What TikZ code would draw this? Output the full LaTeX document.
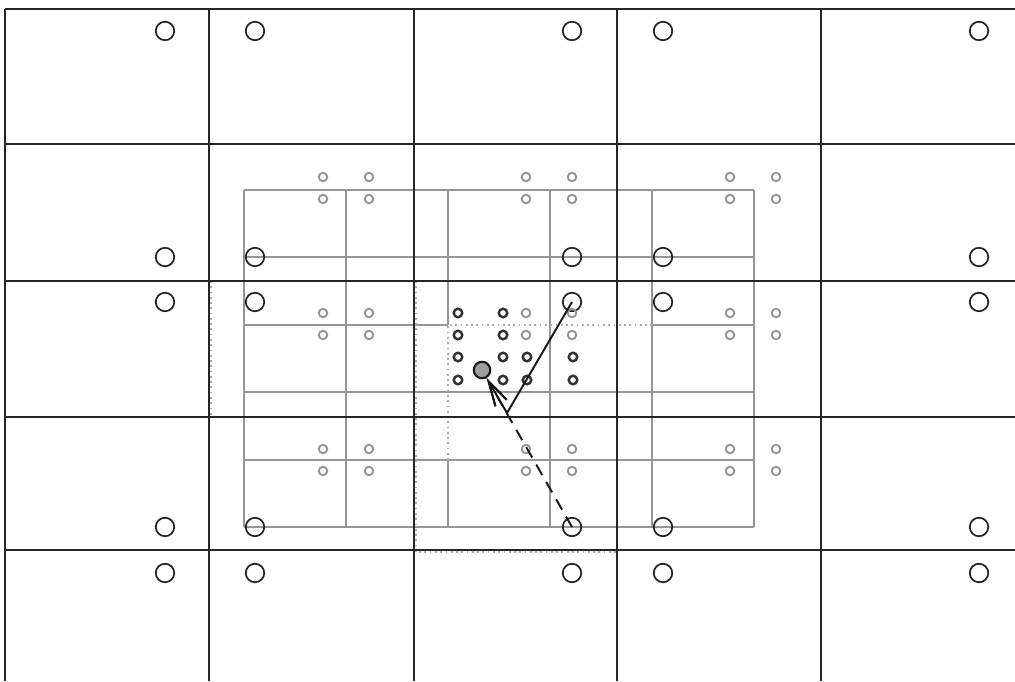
\documentclass[tikz,border=0pt]{standalone}
\usepackage{tikz}
\usetikzlibrary{arrows.meta}
\definecolor{gridgris}{RGB}{150,150,150}
\definecolor{puntoosc}{RGB}{50,50,50}

\begin{document}
\begin{tikzpicture}[
  x=0.2mm, y=-0.2mm,
  gruesa/.style={line width=1.3pt, color=black!85},
  fina/.style={line width=1.1pt, color=gridgris},
  zona/.style={line width=1pt, color=gridgris!80, dotted},
  nodogrande/.style={circle, draw=black!85, line width=1pt, inner sep=0pt,
                     minimum size=3.7mm},
  nodofino/.style={circle, draw=gridgris, line width=1.1pt, inner sep=0pt,
                   minimum size=1.7mm},
  nodoactivo/.style={circle, draw=puntoosc, line width=1.4pt, inner sep=0pt,
                     minimum size=1.7mm},
  objetivo/.style={circle, draw=black!90, fill=gray!75, line width=1.2pt,
                   inner sep=0pt, minimum size=3.3mm},
  flecha/.style={-{Straight Barb[length=5mm, width=2.6mm]}, line width=1.1pt, color=black!90}
]
\useasboundingbox (0,0) rectangle (1015,681);

% fine grid
\foreach \x in {244,346,550,652,754}
  \draw[fina] (\x,190) -- (\x,527);
\draw[fina] (448,190) -- (448,325);
\draw[fina] (448,460) -- (448,527);
\foreach \y in {190,257,392,460,527}
  \draw[fina] (244,\y) -- (754,\y);
\draw[fina] (244,325) -- (448,325);
\draw[fina] (652,325) -- (754,325);

% dotted regions
\draw[zona] (448,460) -- (448,325) -- (652,325);
\draw[zona] (211,281) -- (211,417);
\draw[zona] (416,281) -- (416,552) -- (617,552);

% coarse grid
\foreach \y in {9,144,281,417,550}
  \draw[gruesa] (5,\y) -- (1015,\y);
\foreach \x in {5,209,414,617,821}
  \draw[gruesa] (\x,9) -- (\x,681);

% coarse points
\foreach \x [count=\i] in {165,255,572,663,979}
  \foreach \y [count=\j] in {31,257,302,527,573}
    \node[nodogrande] (c\i\j) at (\x,\y) {};

% fine points
\foreach \cx [count=\i] in {346,549,753}
  \foreach \cy [count=\j] in {188,324,460}
    \foreach \dx [count=\k] in {-23,23}
      \foreach \dy [count=\l] in {-11,11}
        \node[nodofino] (f\i\j\k\l) at (\cx+\dx,\cy+\dy) {};

% active points
\foreach \x [count=\i] in {458,503}
  \foreach \y [count=\j] in {313,335,357,380}
    \node[nodoactivo] (a\i\j) at (\x,\y) {};
\foreach \x [count=\i] in {527,573}
  \foreach \y [count=\j] in {357,380}
    \node[nodoactivo] (b\i\j) at (\x,\y) {};

\node[objetivo] (q) at (482,370) {};
\coordinate (giro) at (507,413);

\draw[flecha] (c33.center) -- (giro) -- (q);
\draw[flecha, dash pattern=on 2.4mm off 1.6mm] (c34.center) -- (q);
\end{tikzpicture}
\end{document}
